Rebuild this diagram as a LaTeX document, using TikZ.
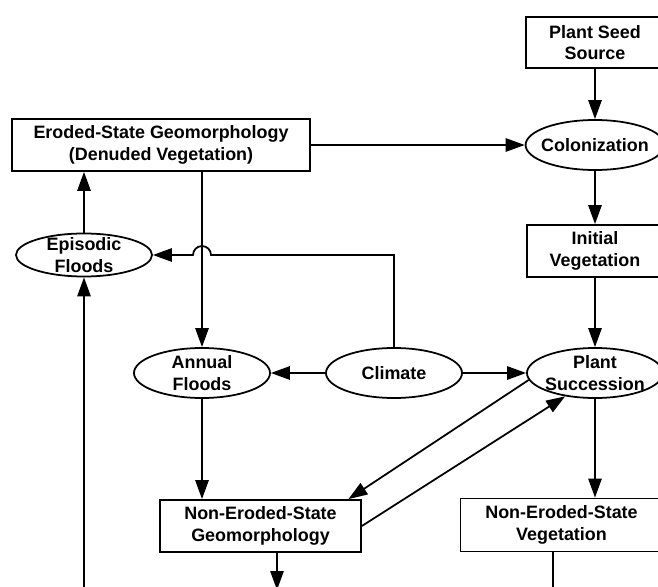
\documentclass[tikz,border=0pt]{standalone}
\usepackage{fontspec}
\setmainfont{Liberation Sans}
\usetikzlibrary{shapes.geometric, arrows.meta}

\begin{document}
\begin{tikzpicture}[x=0.03cm, y=-0.03cm,
	every node/.style={font=\bfseries\fontsize{15.3}{18.5}\selectfont, align=center, line width=1.5pt},
	box/.style={draw, rectangle, inner sep=0pt, minimum height=1.56cm},
	oval/.style={draw, ellipse, inner xsep=-4pt, inner ysep=-2.5pt, minimum width=4.08cm, minimum height=1.5cm},
	arr/.style={line width=1.5pt, -{Triangle[length=0.57cm, width=0.4cm]}}]
	\useasboundingbox (0, 0) rectangle (658, 587);
	\clip (0, 0) rectangle (658, 587);
	\node[box, minimum width=8.94cm] (eroded) at (161, 145) {Eroded-State Geomorphology\\(Denuded Vegetation)};
	\node[box, minimum width=4.14cm, minimum height=1.53cm] (seed) at (595, 42.5) {Plant Seed\\Source};
	\node[oval] (colon) at (595, 145) {Colonization};
	\node[box, minimum width=4.1cm] (initveg) at (595, 251) {Initial\\Vegetation};
	\node[oval, minimum height=1.29cm] (episodic) at (84, 255) {Episodic\\Floods};
	\node[oval] (annual) at (202, 373) {Annual\\Floods};
	\node[oval] (climate) at (394, 373) {Climate};
	\node[oval] (succ) at (595, 373) {Plant\\Succession};
	\node[box, minimum width=6.03cm] (nongeo) at (260.5, 526) {Non-Eroded-State\\Geomorphology};
	\node[box, minimum width=6.06cm, minimum height=1.59cm] (nonveg) at (561.5, 525) {Non-Eroded-State\\Vegetation};
	\coordinate (hopR) at (211, 255);
	\coordinate (geoout) at (277, 590);
	\coordinate (vegout) at (553, 600);
	\coordinate (floodin) at (84, 600);
	\draw[arr] (seed) -- (colon);
	\draw[arr] (colon) -- (initveg);
	\draw[arr] (initveg) -- (succ);
	\draw[arr] (succ.south) -- (succ.south |- nonveg.north);
	\draw[arr] (eroded) -- (colon);
	\draw[arr] (annual.north |- eroded.south) -- (annual);
	\draw[arr] (episodic) -- (episodic |- eroded.south);
	\draw[arr] (climate.north) |- (hopR) arc[start angle=0, end angle=-180, radius=9] -- (episodic.east);
	\draw[arr] (climate) -- (annual);
	\draw[arr] (climate) -- (succ);
	\draw[arr] (annual) -- (annual |- nongeo.north);
	\draw[arr] (succ.186) -- (nongeo.17);
	\draw[arr] (nongeo.east) -- (succ.218);
	\draw[arr] (nongeo.south -| geoout) -- (geoout);
	\draw[line width=1.5pt] (nonveg.south -| vegout) -- (vegout);
	\draw[arr] (floodin) -- (episodic);
\end{tikzpicture}
\end{document}
